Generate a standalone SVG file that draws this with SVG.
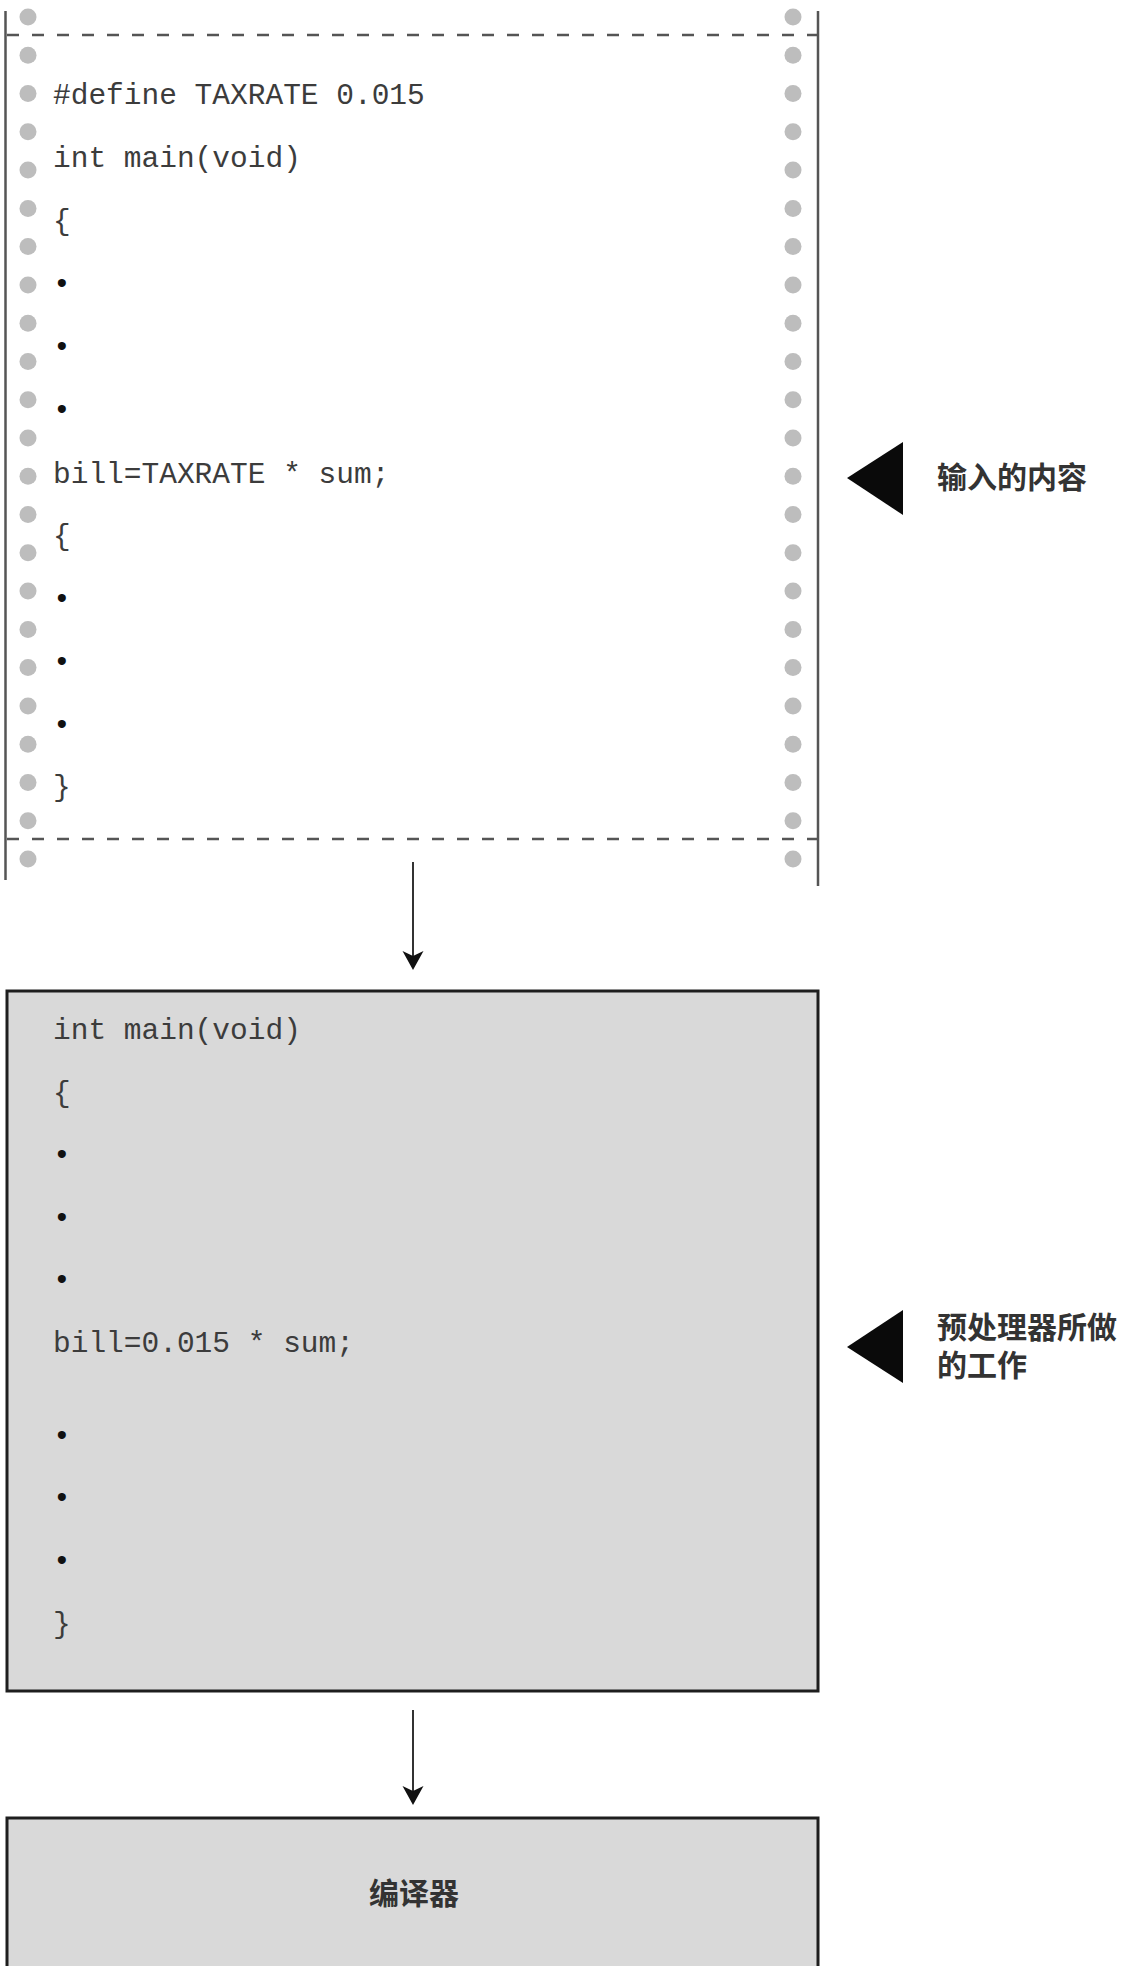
<svg xmlns="http://www.w3.org/2000/svg" width="1129" height="1966" viewBox="0 0 1129 1966">
<style>
.code{font-family:"Liberation Mono","Courier New",monospace;font-size:29.5px;fill:#3c3c3c}
.bul{font-family:"Liberation Mono","Courier New",monospace;font-size:29.5px;fill:#111}
.lbl{font-family:"Liberation Serif","Noto Sans CJK SC",serif;font-size:30px;font-weight:bold;fill:#333}
.hole{fill:#bdbdbd}
.edge{stroke:#555;stroke-width:2.5;fill:none}
.tear{stroke:#555;stroke-width:2.5;stroke-dasharray:12 13;fill:none}
.box{fill:#d9d9d9;stroke:#1e1e1e;stroke-width:3}
.conn{stroke:#333;stroke-width:2;fill:none;marker-end:url(#ah)}
.ptr{fill:#0a0a0a}
</style>
<defs>
<marker id="ah" markerUnits="userSpaceOnUse" markerWidth="26" markerHeight="26" viewBox="-20 -13 26 26" refX="-8" refY="0" orient="auto">
<path d="M0,0 L-19,-10.5 L-14,0 L-19,10.5 Z" fill="#111"/>
</marker>
<circle id="h" r="8.5" class="hole"/>
</defs>
<rect width="1129" height="1966" fill="#fff"/>

<g id="source">
<line class="edge" x1="5.5" y1="11" x2="5.5" y2="880"/>
<line class="edge" x1="818" y1="11" x2="818" y2="886"/>
<line class="tear" x1="7" y1="35" x2="818" y2="35"/>
<line class="tear" x1="7" y1="839" x2="818" y2="839"/>
<g id="holes-left">
<use href="#h" x="28" y="17"/><use href="#h" x="28" y="55.3"/><use href="#h" x="28" y="93.5"/><use href="#h" x="28" y="131.8"/><use href="#h" x="28" y="170.1"/><use href="#h" x="28" y="208.4"/><use href="#h" x="28" y="246.6"/><use href="#h" x="28" y="284.9"/><use href="#h" x="28" y="323.2"/><use href="#h" x="28" y="361.5"/><use href="#h" x="28" y="399.7"/><use href="#h" x="28" y="438"/><use href="#h" x="28" y="476.3"/><use href="#h" x="28" y="514.5"/><use href="#h" x="28" y="552.8"/><use href="#h" x="28" y="591.1"/><use href="#h" x="28" y="629.4"/><use href="#h" x="28" y="667.6"/><use href="#h" x="28" y="705.9"/><use href="#h" x="28" y="744.2"/><use href="#h" x="28" y="782.5"/><use href="#h" x="28" y="820.7"/><use href="#h" x="28" y="859"/>
</g>
<g id="holes-right">
<use href="#h" x="793" y="17"/><use href="#h" x="793" y="55.3"/><use href="#h" x="793" y="93.5"/><use href="#h" x="793" y="131.8"/><use href="#h" x="793" y="170.1"/><use href="#h" x="793" y="208.4"/><use href="#h" x="793" y="246.6"/><use href="#h" x="793" y="284.9"/><use href="#h" x="793" y="323.2"/><use href="#h" x="793" y="361.5"/><use href="#h" x="793" y="399.7"/><use href="#h" x="793" y="438"/><use href="#h" x="793" y="476.3"/><use href="#h" x="793" y="514.5"/><use href="#h" x="793" y="552.8"/><use href="#h" x="793" y="591.1"/><use href="#h" x="793" y="629.4"/><use href="#h" x="793" y="667.6"/><use href="#h" x="793" y="705.9"/><use href="#h" x="793" y="744.2"/><use href="#h" x="793" y="782.5"/><use href="#h" x="793" y="820.7"/><use href="#h" x="793" y="859"/>
</g>
<text class="code" x="53" y="104">#define TAXRATE 0.015</text>
<text class="code" x="53" y="167">int main(void)</text>
<text class="code" x="53" y="230">{</text>
<text class="bul" x="53" y="293">•</text>
<text class="bul" x="53" y="356">•</text>
<text class="bul" x="53" y="419">•</text>
<text class="code" x="53" y="483">bill=TAXRATE * sum;</text>
<text class="code" x="53" y="545">{</text>
<text class="bul" x="53" y="608">•</text>
<text class="bul" x="53" y="671">•</text>
<text class="bul" x="53" y="734">•</text>
<text class="code" x="53" y="796">}</text>
</g>

<g id="label-input">
<polygon class="ptr" points="847,478 903,442 903,515"/>
<text class="lbl" x="937" y="488">输入的内容</text>
</g>

<g id="preprocessed">
<rect class="box" x="7" y="991" width="811" height="700"/>
<text class="code" x="53" y="1039">int main(void)</text>
<text class="code" x="53" y="1102">{</text>
<text class="bul" x="53" y="1164">•</text>
<text class="bul" x="53" y="1227">•</text>
<text class="bul" x="53" y="1289">•</text>
<text class="code" x="53" y="1352">bill=0.015 * sum;</text>
<text class="bul" x="53" y="1445">•</text>
<text class="bul" x="53" y="1507">•</text>
<text class="bul" x="53" y="1570">•</text>
<text class="code" x="53" y="1633">}</text>
</g>

<g id="label-preprocessor">
<polygon class="ptr" points="847,1347 903,1310 903,1383"/>
<text class="lbl" x="937" y="1338">预处理器所做</text>
<text class="lbl" x="937" y="1376">的工作</text>
</g>

<g id="compiler">
<rect class="box" x="7" y="1818" width="811" height="160"/>
<text class="lbl" x="414" y="1904" text-anchor="middle">编译器</text>
</g>

<g id="connectors">
<path class="conn" d="M413,862 L413,962"/>
<path class="conn" d="M413,1710 L413,1797"/>
</g>
</svg>
